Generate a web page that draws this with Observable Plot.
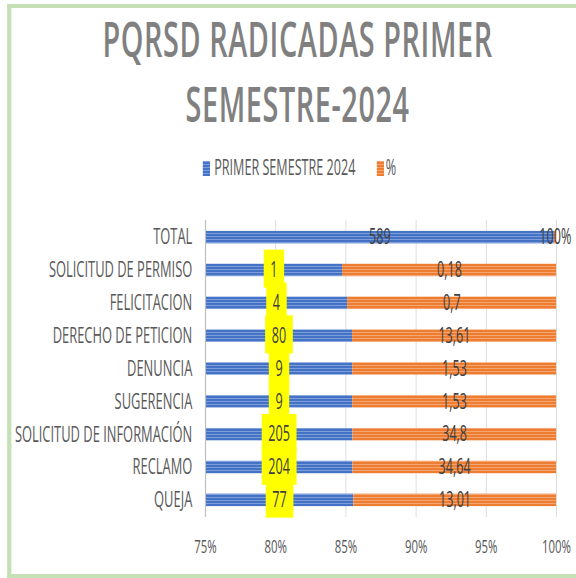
<!DOCTYPE html>
<html><head><meta charset="utf-8">
<script src="https://cdn.jsdelivr.net/npm/d3@7"></script>
<script src="https://cdn.jsdelivr.net/npm/@observablehq/plot@0.6"></script>
<style>
html,body{margin:0;padding:0;background:#fff;overflow:hidden;width:576px;height:578px}
#root{position:absolute;left:0;top:0;width:960px;height:578px;transform:scaleX(0.6);transform-origin:0 0;font-family:"Open Sans",sans-serif}
#frame{position:absolute;left:12px;top:4px;width:1000px;height:566px;border-left:7px solid #c5e0b4;border-top:4px solid #c5e0b4;border-bottom:4px solid #c5e0b4}
.t{position:absolute;left:0;width:992px;text-align:center;font-size:48px;line-height:48px;font-weight:600;color:#808080;letter-spacing:1px;white-space:nowrap}
.lg{position:absolute;font-size:21px;line-height:21px;color:#595959;white-space:nowrap}
.sw{position:absolute;width:12px;height:15px}
#chart{position:absolute;left:0;top:200px}
</style></head>
<body>
<div id="root">
  <div id="frame"></div>
  <div class="t" style="top:15px">PQRSD RADICADAS PRIMER</div>
  <div class="t" style="top:80px">SEMESTRE-2024</div>
  <div class="sw" style="left:338px;top:161px;background:repeating-linear-gradient(#7d9ddb 0 1px,#4472c4 1px 3px)"></div>
  <div class="lg" id="lg1" style="left:357px;top:157px">PRIMER SEMESTRE 2024</div>
  <div class="sw" style="left:628px;top:161px;background:repeating-linear-gradient(#f4a571 0 1px,#ed7d31 1px 3px)"></div>
  <div class="lg" id="lg2" style="left:643px;top:157px">%</div>
  <div id="chart"></div>
</div>
<script>
const categories = ["TOTAL","SOLICITUD DE PERMISO","FELICITACION","DERECHO DE PETICION","DENUNCIA","SUGERENCIA","SOLICITUD DE INFORMACIÓN","RECLAMO","QUEJA"];
const counts = [589, 1, 4, 80, 9, 9, 205, 204, 77];
const percents = [1, 0.18, 0.7, 13.61, 1.53, 1.53, 34.8, 34.64, 13.01];
const percentLabels = ["100%","0,18","0,7","13,61","1,53","1,53","34,8","34,64","13,01"];
const seriesNames = ["PRIMER SEMESTRE 2024", "%"];
const xTicks = [0.75, 0.8, 0.85, 0.9, 0.95, 1];

const rows = categories.flatMap((c, i) => [
  {cat: c, series: seriesNames[0], value: counts[i]},
  {cat: c, series: seriesNames[1], value: percents[i]}
]);
const share = categories.map((c, i) => counts[i] / (counts[i] + percents[i]));
const lo = xTicks[0], hi = xTicks[xTicks.length - 1];
const countLabelsData = categories.map((c, i) => ({cat: c, x: (lo + share[i]) / 2, text: String(counts[i]), hl: i > 0}));
const pctLabelsData = categories.map((c, i) => ({cat: c, x: (share[i] + hi) / 2, text: percentLabels[i]}));

const addClass = (name) => function(index, scales, values, dims, ctx, next) {
  const g = next(index, scales, values, dims, ctx);
  if (g) g.classList.add(name);
  return g;
};

const chart = Plot.plot({
  width: 960, height: 370,
  marginLeft: 342, marginRight: 33, marginTop: 20, marginBottom: 53,
  x: {domain: [lo, hi]},
  y: {domain: categories, paddingInner: 0.62, paddingOuter: 0.33, round: false},
  color: {domain: seriesNames, range: ["url(#pb)", "url(#po)"]},
  style: {fontFamily: "Open Sans", fontSize: "20px", color: "#595959", background: "transparent", overflow: "visible"},
  marks: [
    Plot.ruleX(xTicks.slice(1), {stroke: "#d9d9d9", strokeOpacity: 1, strokeWidth: 1.5}),
    Plot.barX(rows, Plot.stackX({offset: "normalize", x: "value", y: "cat", fill: "series", clip: true})),
    Plot.ruleX([lo], {stroke: "#bfbfbf", strokeOpacity: 1, strokeWidth: 2}),
    Plot.axisX({ticks: xTicks, tickFormat: d3.format(".0%"), tickSize: 0, tickPadding: 22, fontSize: 19, fill: "#595959", label: null}),
    Plot.axisY({tickSize: 0, tickPadding: 22, fontSize: 21.5, fill: "#595959", label: null}),
    Plot.text(countLabelsData.filter(d => d.hl), {x: "x", y: "cat", text: "text", fill: "#404040", fontSize: 21, className: "hl", render: addClass("hl")}),
    Plot.text(countLabelsData.filter(d => !d.hl), {x: "x", y: "cat", text: "text", fill: "#404040", fontSize: 21}),
    Plot.text(pctLabelsData, {x: "x", y: "cat", text: "text", fill: "#404040", fontSize: 21})
  ]
});
document.getElementById("chart").appendChild(chart);

const svg = d3.select(chart.tagName.toLowerCase() === "svg" ? chart : chart.querySelector("svg"));
const defs = svg.insert("defs", ":first-child");
function pat(id, base, light) {
  const p = defs.append("pattern").attr("id", id).attr("patternUnits", "userSpaceOnUse").attr("width", 8).attr("height", 3);
  p.append("rect").attr("width", 8).attr("height", 3).attr("fill", base);
  p.append("rect").attr("width", 8).attr("height", 1).attr("fill", light);
}
pat("pb", "#4472c4", "#7d9ddb");
pat("po", "#ed7d31", "#f4a571");

svg.selectAll("g.hl").each(function() {
  const g = this;
  const texts = Array.from(g.querySelectorAll("text"));
  const first = g.firstChild;
  texts.forEach(t => {
    const b = t.getBBox();
    const cy = b.y + b.height / 2;
    const r = document.createElementNS("http://www.w3.org/2000/svg", "rect");
    r.setAttribute("x", b.x - 11);
    r.setAttribute("width", b.width + 22);
    r.setAttribute("y", cy - 19);
    r.setAttribute("height", 38);
    r.setAttribute("fill", "#ffff00");
    r.setAttribute("stroke", "none");
    const tr = t.getAttribute("transform");
    if (tr) r.setAttribute("transform", tr);
    g.insertBefore(r, first);
  });
});
</script>
</body></html>
